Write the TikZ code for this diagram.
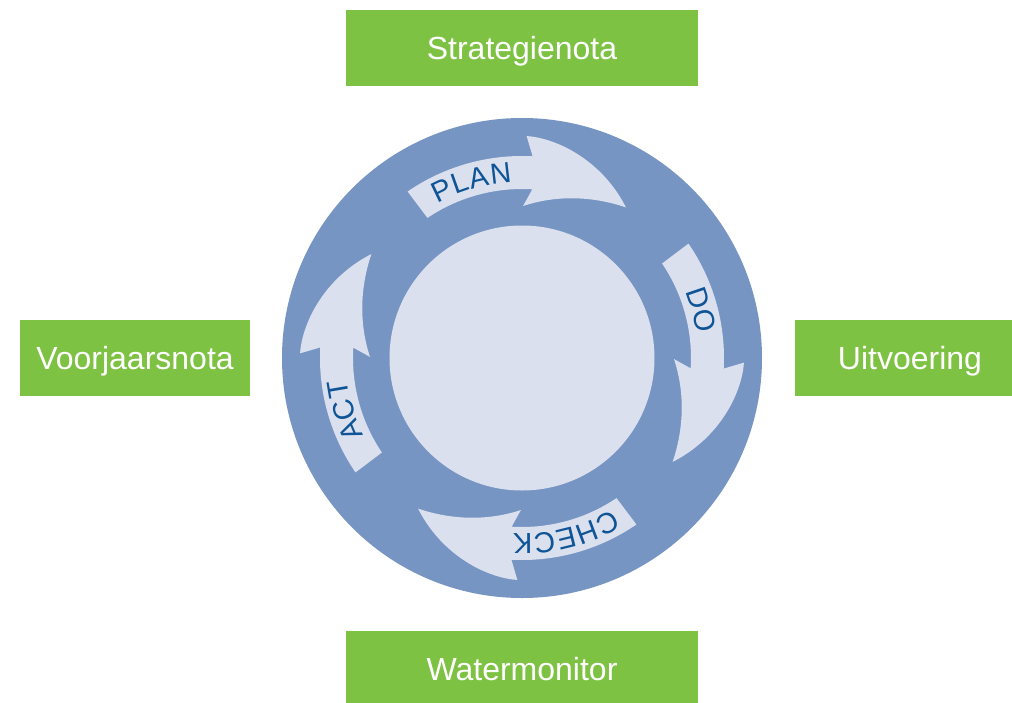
\documentclass[tikz,border=0pt]{standalone}
\usepackage{fontspec}
\setmainfont{Liberation Sans}
\usepackage{xcolor}
\usepackage{tikz}
\usetikzlibrary{positioning}

\definecolor{notagreen}{RGB}{125,194,66}
\definecolor{ringblue}{RGB}{119,149,195}
\definecolor{ringlight}{RGB}{218,224,238}
\definecolor{lblblue}{RGB}{14,84,150}

\begin{document}
\begin{tikzpicture}[x=1pt, y=1pt,
  box/.style={fill=notagreen, text=white, minimum width=351pt, minimum height=76pt, inner sep=0pt,
    text height=23pt, text depth=0pt, font=\fontsize{32}{38}\selectfont},
  phase/.style={text=lblblue, inner sep=0pt, font=\fontsize{29}{33}\selectfont}]
\clip (-522,-344) rectangle (490,358);
\fill[white] (-522,-344) rectangle (490,358);

% ring and hub
\node[circle, fill=ringblue, minimum size=480pt, inner sep=0pt] (ring) at (0,0) {};
\node[circle, fill=ringlight, minimum size=265pt, inner sep=0pt] (hub) at (0,0) {};

% four curved arrows, one per quarter
\foreach \rot in {0,-90,-180,-270} {
  \fill[ringlight, rotate=\rot] (124.5:202) arc[start angle=124.5, end angle=87, radius=202] -- (88.8:222)
    -- plot[domain=0:1, samples=24, variable=\t] ({88.8-33.4*\t}:{222-39*\t*sqrt(\t)})
    -- plot[domain=1:0, samples=24, variable=\t] ({89.6-34.2*\t}:{152+31*\t})
    -- (86.5:169) arc[start angle=86.5, end angle=124, radius=169] -- cycle;
}

% letters along the arrows
\foreach \ch/\a [count=\i] in {P/115.6, L/109.5, A/103.4, N/96.6, D/18.8, O/11.5,
    C/-62.4, H/-69.4, E/-76.2, C/-83.0, K/-89.8, A/203.1, C/196.3, T/189.7}
  \node[phase, rotate=\a-90] (ch\i) at (\a:186) {\ch};

\node[box] (strat) at (0,310) {Strategienota};
\node[box] (wmon) at (0,-311) {Watermonitor};
\node[box, minimum width=230pt] (vjn) at (-387,0) {Voorjaarsnota};
\node[box, minimum width=230pt] (uitv) at (388,0) {Uitvoering};
\end{tikzpicture}
\end{document}
